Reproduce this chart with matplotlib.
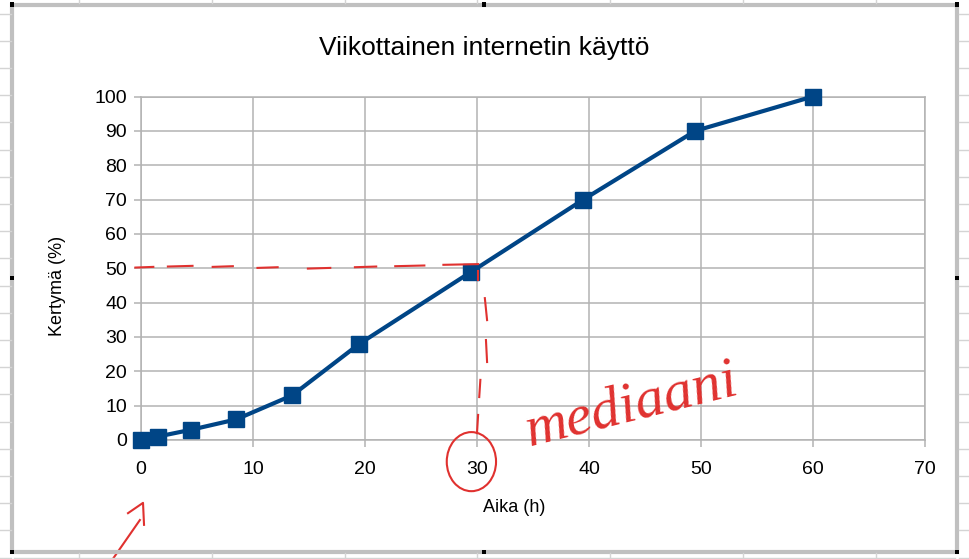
import numpy as np
import matplotlib
matplotlib.use("Agg")
import matplotlib.pyplot as plt
from matplotlib.lines import Line2D
from matplotlib.patches import Ellipse, Rectangle

# data
aika = [0, 1.5, 4.5, 8.5, 13.5, 19.5, 29.5, 39.5, 49.5, 60]
kertyma = [0, 1, 3, 6, 13, 28, 49, 70, 90, 100]

x_ticks = [0, 10, 20, 30, 40, 50, 60, 70]
y_ticks = [0, 10, 20, 30, 40, 50, 60, 70, 80, 90, 100]

# handwritten red annotations (data coords)
median_dash_x = [(-0.5, 1.1), (2.4, 4.6), (6.4, 8.2), (10.4, 12.2), (14.9, 16.9),
                 (19.1, 21.0), (22.7, 25.3), (27.0, 30.1)]
median_dash_y = [50.2, 50.5, 50.4, 50.1, 49.9, 50.3, 50.6, 51.0]
vert_dash_x = [(30.1, 30.1), (30.7, 30.9), (30.8, 30.9), (30.3, 30.2), (30.1, 30.0)]
vert_dash_y = [(49.2, 46.6), (41.3, 34.9), (29.1, 22.7), (17.5, 12.5), (7.3, 2.0)]
arrow_x = [-2.7, -0.1]
arrow_y = [-35.5, -23.3]
arrow_head_x = [-1.16, 0.18, 0.27]
arrow_head_y = [-21.3, -18.3, -24.7]

W, H = 970, 559
fig = plt.figure(figsize=(9.7, 5.59), dpi=100)
fig.patch.set_facecolor("white")

def fx(px):
    return px / W

def fy(py):
    return 1 - py / H

# spreadsheet grid behind the chart frame
grid_c = "#d4d4d4"
for k in range(21):
    yy = 13.5 + 27.2 * k
    fig.add_artist(Line2D([0, fx(11)], [fy(yy), fy(yy)], color=grid_c, lw=1))
    fig.add_artist(Line2D([fx(959), 1], [fy(yy), fy(yy)], color=grid_c, lw=1))
for k in range(8):
    xx = 79 + 132.8 * k
    fig.add_artist(Line2D([fx(xx), fx(xx)], [1, fy(3)], color=grid_c, lw=1))
    fig.add_artist(Line2D([fx(xx), fx(xx)], [fy(553), 0], color=grid_c, lw=1))
fig.add_artist(Line2D([fx(14), fx(955)], [fy(557.5), fy(557.5)], color=grid_c, lw=1))

# chart frame with handles
frame_c = "#c0c0c0"
fig.add_artist(Rectangle((fx(12), fy(551.5)), fx(957) - fx(12), fy(4.5) - fy(551.5),
                         transform=fig.transFigure, fill=False, ec=frame_c, lw=3))
for hx, hy in [(12, 4.5), (484, 4.5), (957, 4.5), (12, 278), (957, 278),
               (12, 551.5), (484, 551.5), (957, 551.5)]:
    fig.add_artist(Rectangle((fx(hx - 2), fy(hy + 2)), 4 / W, 4 / H,
                             transform=fig.transFigure, color="black", lw=0))

ax = fig.add_axes([fx(141), fy(440), fx(925) - fx(141), fy(96.5) - fy(440)])
ax.set_facecolor("white")
ax.set_xlim(0, 70)
ax.set_ylim(0, 100)
ax.set_xticks(x_ticks)
ax.set_yticks(y_ticks)
ax.grid(True, color="#b3b3b3", lw=1.1)
ax.set_axisbelow(True)
for s in ax.spines.values():
    s.set_color("#b3b3b3")
    s.set_linewidth(1.1)
ax.tick_params(axis="both", colors="#b3b3b3", labelcolor="black", labelsize=14,
               length=5, width=1.1)
ax.tick_params(axis="y", pad=5)
ax.tick_params(axis="x", pad=10)
for lab in ax.get_xticklabels() + ax.get_yticklabels():
    lab.set_fontfamily("Liberation Sans")

ax.plot(aika, kertyma, color="#004586", lw=3, marker="s", markersize=11,
        clip_on=False, zorder=5)

fig.text(fx(484.5), fy(48), "Viikottainen internetin käyttö", ha="center", va="center",
         fontsize=19, family="Liberation Sans")
fig.text(fx(514), fy(507), "Aika (h)", ha="center", va="center",
         fontsize=13, family="Liberation Sans")
fig.text(fx(58), fy(286), "Kertymä (%)", ha="center", va="center", rotation=90,
         fontsize=13, family="Liberation Sans")

red = "#e0312f"
for (x0, x1), yy in zip(median_dash_x, median_dash_y):
    ax.plot([x0, x1], [yy, yy + 0.2], color=red, lw=1.5, clip_on=False, zorder=6)
for xs, ys in zip(vert_dash_x, vert_dash_y):
    ax.plot(xs, ys, color=red, lw=1.5, clip_on=False, zorder=6)
ax.add_patch(Ellipse((29.5, -6.3), 4.4, 17.2, angle=0, fill=False, ec=red, lw=1.5,
                     clip_on=False, zorder=6))
ax.plot(arrow_x, arrow_y, color=red, lw=1.5, clip_on=False, zorder=6)
ax.plot(arrow_head_x, arrow_head_y, color=red, lw=1.5, clip_on=False, zorder=6)
ax.text(43.8, 10.0, "mediaani", color=red, fontsize=42, family="Liberation Serif",
        style="italic", rotation=14, ha="center", va="center", zorder=6)

fig.savefig("out.png", dpi=100)
